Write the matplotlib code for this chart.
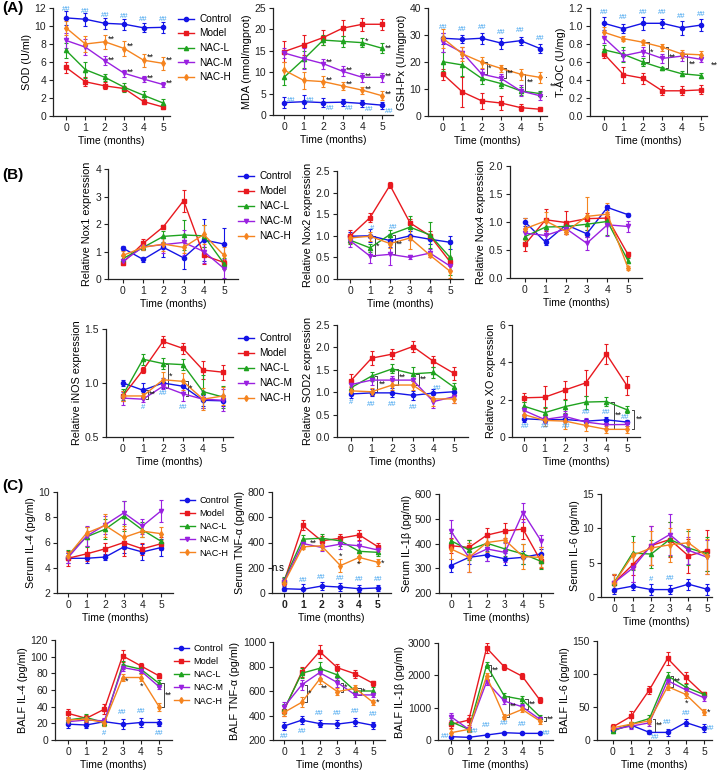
import numpy as np
import matplotlib.pyplot as plt
from matplotlib.lines import Line2D

plt.rcParams['font.family'] = ['Liberation Sans', 'DejaVu Sans']

months = [0, 1, 2, 3, 4, 5]
groups = ['Control', 'Model', 'NAC-L', 'NAC-M', 'NAC-H']
colors = ['#1414e6', '#e8191f', '#1fa31f', '#9a21e0', '#f5841f']
markers = ['o', 's', '^', 'v', 'd']

# ---- data (rows: Control, Model, NAC-L, NAC-M, NAC-H) ----
sod_mean = [[10.9, 10.75, 10.3, 10.2, 9.8, 9.85], [5.4, 3.8, 3.35, 3.05, 1.6, 1.0],
            [7.3, 5.15, 4.3, 3.2, 2.3, 1.45], [8.4, 7.65, 6.15, 4.75, 4.1, 3.5],
            [9.8, 8.0, 8.25, 7.5, 6.2, 5.85]]
sod_err = [[0.8, 0.7, 0.6, 0.6, 0.5, 0.6], [0.6, 0.5, 0.4, 0.3, 0.3, 0.2],
           [0.8, 0.9, 0.4, 0.5, 0.5, 0.4], [0.8, 0.9, 0.5, 0.4, 0.3, 0.3],
           [0.8, 0.9, 0.8, 0.8, 0.7, 0.7]]
mda_mean = [[2.9, 3.1, 2.9, 3.0, 2.7, 2.3], [14.8, 16.4, 18.1, 20.3, 21.2, 21.2],
            [8.8, 13.0, 17.5, 17.2, 16.9, 15.6], [14.5, 13.2, 12.0, 10.2, 8.8, 8.8],
            [10.5, 8.1, 7.8, 6.8, 5.8, 4.5]]
mda_err = [[1.2, 1.5, 1.0, 0.8, 0.8, 0.8], [2.5, 2.3, 1.7, 1.8, 1.5, 1.3],
           [1.8, 2.0, 1.2, 1.3, 1.0, 1.2], [1.2, 2.5, 1.2, 1.2, 1.1, 1.0],
           [1.8, 2.0, 1.2, 1.0, 0.8, 1.0]]
gsh_mean = [[28.8, 28.4, 28.8, 27.0, 27.9, 25.0], [15.5, 8.9, 5.6, 4.8, 3.1, 2.5],
            [20.1, 18.9, 13.9, 12.0, 9.3, 8.3], [27.3, 23.5, 15.5, 13.9, 9.3, 7.5],
            [28.8, 23.0, 19.9, 17.6, 15.5, 14.3]]
gsh_err = [[2, 1.5, 2, 2, 1.5, 1.5], [2, 5.5, 3, 2.5, 1.2, 0.4], [3.5, 4, 2, 1.5, 1.5, 1],
           [3.5, 2, 2, 1.5, 2, 1.5], [3.5, 2.5, 2, 1.2, 2, 2]]
taoc_mean = [[1.03, 0.97, 1.03, 1.03, 0.98, 1.01], [0.69, 0.46, 0.42, 0.28, 0.28, 0.29],
             [0.735, 0.685, 0.60, 0.53, 0.47, 0.45], [0.87, 0.67, 0.715, 0.64, 0.665, 0.63],
             [0.93, 0.86, 0.82, 0.765, 0.69, 0.68]]
taoc_err = [[0.07, 0.05, 0.07, 0.05, 0.08, 0.07], [0.05, 0.09, 0.06, 0.05, 0.05, 0.05],
            [0.05, 0.08, 0.04, 0.02, 0.03, 0.03], [0.06, 0.06, 0.05, 0.05, 0.05, 0.03],
            [0.06, 0.03, 0.03, 0.04, 0.04, 0.04]]
nox1_mean = [[1.12, 0.71, 1.15, 0.77, 1.42, 1.27], [0.6, 1.3, 1.9, 2.85, 0.86, 0.6],
             [0.74, 1.15, 1.55, 1.6, 1.57, 0.56], [0.64, 1.17, 1.25, 1.33, 1.0, 0.38],
             [0.86, 1.15, 1.27, 1.15, 1.62, 0.86]]
nox1_err = [[0.08, 0.1, 0.35, 0.4, 0.75, 0.6], [0.1, 0.15, 0.05, 0.4, 0.3, 0.1],
            [0.1, 0.1, 0.2, 0.55, 0.4, 0.2], [0.1, 0.1, 0.3, 0.45, 0.4, 0.35],
            [0.15, 0.1, 0.25, 0.2, 0.35, 0.3]]
nox2_mean = [[0.99, 1.0, 0.89, 1.0, 0.92, 0.85], [0.99, 1.42, 2.17, 1.3, 1.0, 0.4],
             [0.9, 0.72, 1.03, 1.2, 1.02, 0.5], [0.89, 0.53, 0.57, 0.5, 0.6, 0.3],
             [0.95, 0.99, 0.82, 0.95, 0.55, 0.18]]
nox2_err = [[0.1, 0.15, 0.15, 0.1, 0.1, 0.15], [0.15, 0.1, 0.07, 0.1, 0.1, 0.1],
            [0.1, 0.1, 0.1, 0.25, 0.3, 0.4], [0.15, 0.15, 0.25, 0.03, 0.1, 0.1],
            [0.1, 0.1, 0.1, 0.25, 0.05, 0.15]]
nox4_mean = [[1.0, 0.64, 0.95, 0.79, 1.26, 1.13], [0.6, 1.04, 0.99, 1.06, 1.07, 0.42],
             [0.74, 0.91, 0.92, 0.96, 1.01, 0.31], [0.8, 0.76, 0.88, 0.62, 0.95, 0.92],
             [0.88, 1.02, 0.83, 1.1, 1.14, 0.18]]
nox4_err = [[0.07, 0.05, 0.05, 0.06, 0.05, 0.03], [0.12, 0.2, 0.2, 0.1, 0.1, 0.05],
            [0.1, 0.15, 0.1, 0.1, 0.25, 0.05], [0.1, 0.1, 0.1, 0.12, 0.2, 0.1],
            [0.2, 0.15, 0.05, 0.35, 0.2, 0.03]]
inos_mean = [[1.0, 0.933, 1.0, 0.97, 0.84, 0.835], [0.88, 1.12, 1.385, 1.32, 1.12, 1.10],
             [0.89, 1.22, 1.18, 1.17, 0.92, 0.87], [0.86, 0.85, 0.97, 0.9, 0.85, 0.84],
             [0.88, 0.88, 1.03, 1.015, 0.85, 0.88]]
inos_err = [[0.03, 0.07, 0.05, 0.05, 0.05, 0.05], [0.05, 0.03, 0.05, 0.05, 0.08, 0.07],
            [0.05, 0.05, 0.05, 0.05, 0.15, 0.1], [0.06, 0.03, 0.03, 0.07, 0.08, 0.1],
            [0.05, 0.03, 0.07, 0.08, 0.1, 0.08]]
sod2_mean = [[0.96, 0.985, 0.985, 0.93, 0.98, 1.01], [1.26, 1.76, 1.85, 2.02, 1.69, 1.42],
             [1.1, 1.36, 1.52, 1.41, 1.44, 1.11], [1.17, 1.27, 1.27, 1.27, 0.79, 0.9],
             [1.03, 1.01, 1.16, 1.16, 0.85, 0.85]]
sod2_err = [[0.1, 0.08, 0.1, 0.1, 0.1, 0.08], [0.15, 0.15, 0.12, 0.13, 0.12, 0.15],
            [0.1, 0.1, 0.1, 0.15, 0.12, 0.1], [0.1, 0.1, 0.1, 0.1, 0.15, 0.15],
            [0.1, 0.08, 0.1, 0.1, 0.15, 0.1]]
xo_mean = [[0.98, 0.92, 0.94, 0.85, 0.92, 0.8], [2.1, 2.13, 2.52, 2.9, 4.44, 2.75],
           [1.65, 1.3, 1.63, 1.87, 1.9, 1.46], [1.42, 0.94, 1.1, 0.8, 0.66, 0.67],
           [1.2, 0.89, 0.85, 0.62, 0.41, 0.41]]
xo_err = [[0.15, 0.1, 0.1, 0.1, 0.15, 0.1], [0.25, 0.6, 0.5, 0.7, 0.55, 0.5],
          [0.2, 0.3, 0.35, 0.35, 0.25, 0.2], [0.2, 0.2, 0.3, 0.2, 0.2, 0.1],
          [0.2, 0.3, 0.4, 0.3, 0.2, 0.2]]
sil4_mean = [[4.75, 4.75, 4.85, 5.65, 5.25, 5.6], [4.75, 5.1, 5.5, 6.0, 5.5, 5.9],
             [5.0, 6.45, 7.05, 8.1, 7.0, 6.1], [4.8, 6.5, 7.4, 8.35, 7.3, 8.5],
             [4.95, 6.75, 7.35, 6.4, 6.9, 6.7]]
sil4_err = [[0.4, 0.4, 0.2, 0.5, 0.6, 0.7], [0.6, 0.6, 0.5, 1.1, 0.5, 0.5],
            [0.4, 0.8, 0.8, 1.2, 0.6, 0.6], [0.4, 0.8, 0.7, 0.9, 0.6, 0.9],
            [0.3, 0.5, 0.9, 0.9, 0.5, 0.5]]
stnf_mean = [[34, 29, 55, 47, 34, 40], [90, 536, 413, 434, 460, 366],
             [100, 426, 434, 413, 330, 322], [90, 392, 361, 387, 374, 340],
             [80, 366, 374, 217, 282, 243]]
stnf_err = [[20, 40, 30, 30, 30, 25], [30, 40, 40, 35, 40, 30], [30, 30, 30, 40, 40, 30],
            [30, 30, 30, 40, 40, 30], [30, 20, 30, 50, 40, 30]]
sil1b_mean = [[311, 344, 354, 338, 344, 358], [391, 384, 434, 451, 458, 328],
              [411, 374, 401, 378, 358, 328], [449, 344, 378, 364, 525, 411],
              [378, 344, 404, 414, 347, 344]]
sil1b_err = [[25, 25, 25, 25, 25, 20], [30, 30, 30, 30, 40, 25], [30, 40, 30, 30, 40, 30],
             [45, 60, 50, 40, 40, 25], [40, 60, 40, 40, 50, 40]]
sil6_mean = [[1.08, 1.58, 1.08, 1.08, 1.87, 1.13], [2.07, 4.68, 7.49, 8.37, 6.0, 6.75],
             [2.07, 6.4, 6.25, 8.4, 7.14, 6.3], [2.07, 4.2, 7.5, 9.1, 6.8, 5.8],
             [2.0, 6.06, 7.14, 7.6, 7.9, 5.9]]
sil6_err = [[0.6, 0.6, 0.8, 0.6, 0.8, 0.8], [1.2, 1.5, 2.8, 2.5, 2.5, 3],
            [1.3, 2.5, 2, 2.5, 2.5, 2.5], [1.3, 2, 2.8, 3, 2, 2.5], [1.3, 2, 2.5, 2.5, 2, 2.5]]
bil4_mean = [[19, 18, 22, 19, 21, 21], [32, 26, 37, 101, 89, 77], [24, 27, 21, 90, 85, 68],
             [22, 24, 23, 87, 83, 64], [24, 25, 21, 75, 75, 40]]
bil4_err = [[4, 4, 3, 6, 5, 4], [5, 4, 6, 7, 3, 3], [4, 4, 4, 5, 4, 4], [4, 4, 4, 4, 3, 3],
            [4, 4, 4, 4, 4, 5]]
btnf_mean = [[314, 362, 334, 330, 348, 320], [440, 756, 922, 790, 740, 663],
             [450, 745, 785, 731, 600, 600], [470, 651, 750, 669, 568, 568],
             [425, 508, 696, 595, 622, 508]]
btnf_err = [[30, 35, 30, 30, 30, 30], [40, 40, 50, 30, 30, 20], [40, 40, 50, 40, 30, 30],
            [40, 40, 40, 40, 20, 20], [30, 40, 40, 30, 30, 20]]
bil1b_mean = [[103, 82, 154, 226, 205, 205], [483, 617, 2847, 2261, 1973, 1233],
              [565, 329, 2312, 1357, 1254, 720], [720, 329, 1800, 1203, 1028, 637],
              [226, 329, 1973, 720, 946, 586]]
bil1b_err = [[20, 20, 20, 30, 20, 20], [100, 150, 150, 100, 100, 100],
             [100, 80, 100, 100, 100, 50], [100, 80, 100, 100, 80, 50],
             [100, 80, 100, 80, 80, 80]]
bil6_mean = [[15, 22.5, 11.5, 11.5, 26.5, 17.5], [20, 36, 76, 123.5, 95, 69],
             [13.5, 24, 32.5, 97.5, 80, 69], [16, 21, 26, 90, 76, 64],
             [18.5, 24, 29, 81, 69, 42.5]]
bil6_err = [[3, 4, 3, 5, 5, 6], [5, 8, 6, 10, 8, 4], [3, 4, 5, 6, 5, 3], [4, 5, 5, 5, 5, 5],
            [4, 4, 4, 5, 6, 5]]

W, H = 720, 771
fig = plt.figure(figsize=(7.2, 7.71), dpi=100)
BLUE_TXT = '#3aa0ee'


def make_ax(box, x0, x5, ylim, yticks, ylabel, fmt='{:g}'):
    l, r, t, b = box
    ax = fig.add_axes([l / W, 1 - b / H, (r - l) / W, (b - t) / H])
    unit = (x5 - x0) / 5
    ax.set_xlim((l - x0) / unit, 5 + (r - x5) / unit)
    ax.set_ylim(*ylim)
    ax.set_xticks(months)
    ax.set_yticks(yticks)
    ax.set_yticklabels([fmt.format(v) for v in yticks])
    for s in ['top', 'right']:
        ax.spines[s].set_visible(False)
    for s in ['left', 'bottom']:
        ax.spines[s].set_linewidth(0.9)
        ax.spines[s].set_color('#222222')
    ax.tick_params(labelsize=7.5, length=3, width=0.8, pad=2, colors='#222222')
    ax.set_xlabel('Time (months)', fontsize=7.5, labelpad=2.5)
    ax.set_ylabel(ylabel, fontsize=7.8, labelpad=2)
    return ax


def draw(ax, means, errs):
    for i in range(5):
        ax.errorbar(months, means[i], yerr=errs[i], color=colors[i], marker=markers[i],
                    ms=3, lw=1, elinewidth=0.8, capsize=1.6, capthick=0.8)


def stars(ax, x, y, txt, size=6.5):
    ax.text(x, y, txt, fontsize=size, ha='left', va='center', color='#111111')


def sig(ax, x, y, txt='##'):
    ax.text(x, y, txt, fontsize=5.5, ha='center', va='center', color=BLUE_TXT)


def bracket(ax, x, ya, yb, txt, w=0.12):
    ax.plot([x - w, x, x, x - w], [ya, ya, yb, yb], color='#444444', lw=0.7)
    stars(ax, x + 0.06, (ya + yb) / 2, txt)


def legend(x, y, spacing, size=7.2):
    handles = [Line2D([0], [0], color=colors[i], marker=markers[i], ms=3, lw=1)
               for i in range(5)]
    fig.legend(handles, groups, loc='upper left', bbox_to_anchor=(x / W, 1 - y / H),
               frameon=False, fontsize=size, labelspacing=spacing, handlelength=1.6,
               handletextpad=0.5, borderpad=0, borderaxespad=0)


# ---------------- (A) ----------------
ax = make_ax([53, 170, 8, 116], 66, 163, (0, 12), range(0, 13, 2), 'SOD (U/ml)')
draw(ax, sod_mean, sod_err)
for k in months:
    sig(ax, k, sod_mean[0][k] + 0.9)
for k in [2, 3, 4, 5]:
    stars(ax, k + 0.15, sod_mean[4][k] + 0.3, '**')
    stars(ax, k + 0.15, sod_mean[3][k] + 0.1, '**')

ax = make_ax([273, 393, 8, 115], 284, 382, (0, 25), range(0, 26, 5), 'MDA (nmol/mgprot)')
draw(ax, mda_mean, mda_err)
for k in [0, 1]:
    sig(ax, k + 0.35, mda_mean[0][k] + 0.4)
for k in [2, 3, 4, 5]:
    sig(ax, k + 0.35, mda_mean[0][k] - 1.4)
    stars(ax, k + 0.15, mda_mean[3][k] + 0.3, '**')
    stars(ax, k + 0.15, mda_mean[4][k] + 0.3, '**')
stars(ax, 4.15, mda_mean[2][4] + 0.3, '*')
stars(ax, 5.15, mda_mean[2][5], '**')

ax = make_ax([428, 547, 8, 116], 443, 540, (0, 40), range(0, 41, 10), 'GSH-Px (U/mgprot)')
draw(ax, gsh_mean, gsh_err)
for k in months:
    sig(ax, k, gsh_mean[0][k] + 3.8)
for k, t in zip([2, 3, 4, 5], ['*', '**', '**', '**']):
    bracket(ax, k + 0.25 + (0.2 if k == 5 else 0), gsh_mean[4][k], gsh_mean[3][k], t)

ax = make_ax([590, 707, 8, 116], 604, 701, (0, 1.2), np.arange(0, 1.21, 0.2), 'T-AOC (U/mg)',
             '{:.1f}')
draw(ax, taoc_mean, taoc_err)
for k in months:
    sig(ax, k, taoc_mean[0][k] + 0.12)
for k, t in zip([2, 3, 4, 5], ['*', '**', '**', '**']):
    bracket(ax, k + 0.3 + (0.15 if k == 5 else 0), taoc_mean[4][k], taoc_mean[2][k], t)
legend(178, 14, 0.45)

# ---------------- (B) ----------------
ax = make_ax([108, 238, 169, 279], 123, 224, (0, 4), range(0, 5), 'Relative Nox1 expression')
draw(ax, nox1_mean, nox1_err)
legend(238, 171, 0.5)

ax = make_ax([337, 463, 171, 279], 350, 450, (0, 2.5), np.arange(0, 2.51, 0.5),
             'Relative Nox2 expression', '{:.1f}')
draw(ax, nox2_mean, nox2_err)
bracket(ax, 1.25, nox2_mean[4][1], nox2_mean[3][1], '*')
bracket(ax, 2.25, nox2_mean[2][2], nox2_mean[3][2], '**')
sig(ax, 1.12, 1.18, '#')
sig(ax, 2.15, 1.2, '##')

ax = make_ax([510, 642, 166, 278], 525, 628, (0, 2.0), np.arange(0, 2.01, 0.5),
             'Relative Nox4 expression', '{:.1f}')
draw(ax, nox4_mean, nox4_err)

ax = make_ax([106, 233, 329, 437], 123, 223, (0.5, 1.5), [0.5, 1.0, 1.5],
             'Relative iNOS expression', '{:.1f}')
draw(ax, inos_mean, inos_err)
bracket(ax, 1.25, inos_mean[0][1], inos_mean[3][1], '**')
bracket(ax, 2.25, inos_mean[2][2], inos_mean[0][2] - 0.05, '*')
bracket(ax, 3.25, inos_mean[4][3], inos_mean[3][3] - 0.02, '*')
sig(ax, 1, 0.77, '#')
sig(ax, 2, 0.9, '##')
sig(ax, 3, 0.77, '##')
legend(238, 333, 0.5)

ax = make_ax([337, 468, 325, 437], 351, 454, (0, 2.5), np.arange(0, 2.51, 0.5),
             'Relative SOD2 expression', '{:.1f}')
draw(ax, sod2_mean, sod2_err)
for k in [1, 2, 3]:
    bracket(ax, k + 0.28, sod2_mean[2][k], sod2_mean[4][k], '**')
sig(ax, 0, 0.78, '#')
for k in [1, 2]:
    sig(ax, k, 0.72)
sig(ax, 3, 0.65)
sig(ax, 4.2, 1.08)

ax = make_ax([512, 640, 325, 437], 524, 627, (0, 6), range(0, 7, 2), 'Relative XO expression')
draw(ax, xo_mean, xo_err)
bracket(ax, 4.35, xo_mean[2][4], xo_mean[4][4], '**')
bracket(ax, 5.35, xo_mean[2][5], xo_mean[4][5], '**')
for k in [0, 1, 2]:
    sig(ax, k + 0.05, 0.55)
for k in [3, 4]:
    sig(ax, k, 1.3)
sig(ax, 4.9, 1.05)

# ---------------- (C) ----------------
ax = make_ax([57, 173, 492, 593], 68, 161, (2, 10), range(2, 11, 2), 'Serum IL-4 (pg/ml)')
draw(ax, sil4_mean, sil4_err)
legend(180, 496, 0.45, 6.6)

ax = make_ax([272, 391, 492, 593], 284, 378, (0, 800), range(0, 801, 200),
             'Serum TNF-α (pg/ml)')
draw(ax, stnf_mean, stnf_err)
for lab in ax.get_xticklabels():
    lab.set_fontweight('bold')
ax.text(-0.33, 195, 'n.s', fontsize=7, ha='center', va='center')
stars(ax, 1.35, 395, '**')
stars(ax, 2.9, 290, '*')
stars(ax, 3.9, 230, '*')
stars(ax, 5.15, 235, '*')
for k in [1, 2, 3, 4, 5]:
    sig(ax, k, stnf_mean[0][k] + 70)

ax = make_ax([439, 553, 494, 593], 451, 541, (200, 600), range(200, 601, 100),
             'Serum IL-1β (pg/ml)')
draw(ax, sil1b_mean, sil1b_err)

ax = make_ax([601, 712, 494, 597], 614, 707, (0, 15), range(0, 16, 5), 'Serum IL-6 (pg/ml)')
draw(ax, sil6_mean, sil6_err)
sig(ax, 2, 2.6, '#')
sig(ax, 3, 2.7, '##')

ax = make_ax([55, 172, 640, 740], 68, 159, (0, 120), range(0, 121, 20), 'BALF IL-4 (pg/ml)')
draw(ax, bil4_mean, bil4_err)
stars(ax, 3.15, 70, '*')
stars(ax, 3.95, 65, '*')
bracket(ax, 5.25, bil4_mean[2][5], bil4_mean[4][5], '**')
sig(ax, 2, 8, '#')
sig(ax, 3, 33)
sig(ax, 4, 34)
sig(ax, 5, 8)
legend(174, 644, 0.45, 6.6)

ax = make_ax([273, 385, 642, 740], 284, 373, (200, 1000), range(200, 1001, 200),
             'BALF TNF-α (pg/ml)')
draw(ax, btnf_mean, btnf_err)
bracket(ax, 1.3, btnf_mean[3][1], btnf_mean[4][1], '*')
stars(ax, 2.05, 620, '**')
bracket(ax, 3.3, btnf_mean[3][3], btnf_mean[4][3], '*')
bracket(ax, 4.3, btnf_mean[4][4], btnf_mean[3][4], '*')
stars(ax, 5.15, 505, '*')
sig(ax, 0, 230)
sig(ax, 1, 270)
for k in [2, 3, 4, 5]:
    sig(ax, k, btnf_mean[0][k] + 85)

ax = make_ax([438, 553, 643, 740], 451, 540, (0, 3000), range(0, 3001, 1000),
             'BALF IL-1β (pg/ml)')
draw(ax, bil1b_mean, bil1b_err)
bracket(ax, 2.25, bil1b_mean[2][2], bil1b_mean[4][2], '**')
bracket(ax, 3.25, bil1b_mean[2][3], bil1b_mean[4][3], '**')
bracket(ax, 4.3, bil1b_mean[2][4], bil1b_mean[4][4], '**')
bracket(ax, 5.35, bil1b_mean[2][5], bil1b_mean[4][5], '**')
sig(ax, -0.3, 100)
sig(ax, 1.3, 250)
for k in [2, 3, 4]:
    sig(ax, k, bil1b_mean[0][k] + 280)
sig(ax, 5.35, 200)

ax = make_ax([597, 712, 641, 740], 613, 704, (0, 150), range(0, 151, 50), 'BALF IL-6 (pg/ml)')
draw(ax, bil6_mean, bil6_err)
bracket(ax, 2.3, bil6_mean[2][2], bil6_mean[0][2], '**')
bracket(ax, 3.3, bil6_mean[2][3], bil6_mean[4][3], '**')
stars(ax, 3.95, 55, '*')
stars(ax, 5.15, 42, '*')
sig(ax, 2.3, 4)
sig(ax, 3, 27)
sig(ax, 4, 40)
sig(ax, 5.35, 17)

# panel letters
for lab, y in [('(A)', 8), ('(B)', 175), ('(C)', 486)]:
    fig.text(2 / W, 1 - y / H, lab, fontsize=11, fontweight='bold', va='center', ha='left')

fig.savefig('out.png', dpi=100)
